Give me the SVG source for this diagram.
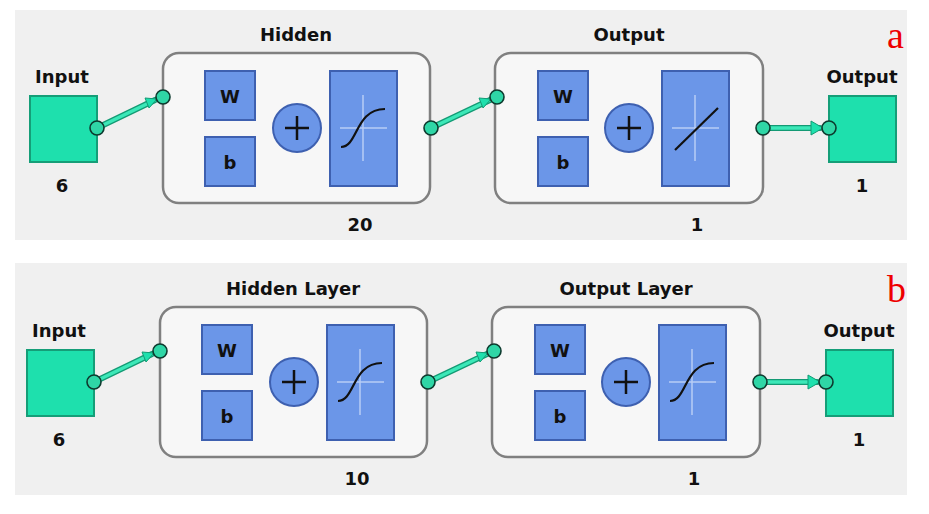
<svg xmlns="http://www.w3.org/2000/svg" width="929" height="514" viewBox="0 0 929 514">
<style>
.bg{fill:#f0f0f0}
.frame{fill:#f7f7f7;stroke:#808080;stroke-width:2.5}
.blue{fill:#6b96e8;stroke:#3e60b0;stroke-width:2}
.green{fill:#1ee0ad;stroke:#159e78;stroke-width:2}
.port{fill:#2fd6a6;stroke:#0d3a2e;stroke-width:1.6}
.w1{fill:none;stroke:#139a74;stroke-width:6;stroke-linecap:round}
.w2{fill:none;stroke:#3ce8b8;stroke-width:3.5;stroke-linecap:round}
.t{font-family:"DejaVu Sans",sans-serif;font-weight:bold;font-size:18px;fill:#111;text-anchor:middle}
.lbl{font-family:"Liberation Serif",serif;font-size:38px;fill:#ee0000}
.cross{stroke:#b8cdf5;stroke-width:1.5}
</style>
<defs>
<marker id="ah" viewBox="0 0 10 10" refX="9" refY="5" markerWidth="4" markerHeight="4" orient="auto" markerUnits="strokeWidth"><path d="M0,0L10,5L0,10z" fill="#1ee0ad" stroke="#139a74" stroke-width="1"/></marker>
<g id="panel">
</g>
</defs>
<rect class="bg" x="15" y="10" width="892" height="230"/>
<rect class="bg" x="15" y="263" width="892" height="232"/>
<g id="panelA">
<g id="connA">
<path class="w1" d="M97,128L155,100M163,97H205M255,97C275,97 285,105 290,110M255,162C275,162 285,152 290,146M321,128H330M397,128H420M431,128L490,100M497,97H538M588,97C608,97 618,105 622,110M588,162C608,162 618,152 622,146M653,128H662M729,128H755M763,128H820"/>
<path class="w2" d="M97,128L155,100M163,97H205M255,97C275,97 285,105 290,110M255,162C275,162 285,152 290,146M321,128H330M397,128H420M431,128L490,100M497,97H538M588,97C608,97 618,105 622,110M588,162C608,162 618,152 622,146M653,128H662M729,128H755M763,128H820"/>
<path d="M145,98L157,99L149,108z" fill="#1ee0ad" stroke="#139a74"/>
<path d="M413,121L425,128L413,135z" fill="#1ee0ad" stroke="#139a74"/>
<path d="M479,98L491,99L483,108z" fill="#1ee0ad" stroke="#139a74"/>
<path d="M745,121L757,128L745,135z" fill="#1ee0ad" stroke="#139a74"/>
<path d="M811,121L823,128L811,135z" fill="#1ee0ad" stroke="#139a74"/>
</g>
<g id="inputA"><rect class="green" x="30" y="96" width="67" height="66"/><text class="t" x="62" y="83">Input</text><text class="t" x="62" y="192">6</text></g>
<g id="hiddenA">
<rect class="frame" x="163" y="53" width="267" height="150" rx="16"/>
<text class="t" x="296" y="41">Hidden</text>
<rect class="blue" x="205" y="71" width="50" height="49"/><text class="t" x="230" y="103">W</text>
<rect class="blue" x="205" y="137" width="50" height="49"/><text class="t" x="230" y="169">b</text>
<circle class="blue" cx="297" cy="128" r="24" stroke="#26396a"/><path d="M285,128H309M297,116V140" stroke="#111" stroke-width="2.5"/>
<rect class="blue" x="330" y="71" width="67" height="115"/>
<path class="cross" d="M340,128H387M363,95V161"/>
<path d="M341,147C358,147 355,109 385,109" fill="none" stroke="#111" stroke-width="2.2"/>
<text class="t" x="360" y="231">20</text>
</g>
<g id="outlayerA">
<rect class="frame" x="495" y="53" width="268" height="150" rx="16"/>
<text class="t" x="629" y="41">Output</text>
<rect class="blue" x="538" y="71" width="50" height="49"/><text class="t" x="563" y="103">W</text>
<rect class="blue" x="538" y="137" width="50" height="49"/><text class="t" x="563" y="169">b</text>
<circle class="blue" cx="629" cy="128" r="24" stroke="#26396a"/><path d="M617,128H641M629,116V140" stroke="#111" stroke-width="2.5"/>
<rect class="blue" x="662" y="71" width="67" height="115"/>
<path class="cross" d="M672,128H719M695,95V161"/>
<path d="M675,150L718,108" stroke="#111" stroke-width="2.2"/>
<text class="t" x="697" y="231">1</text>
</g>
<g id="outputA"><rect class="green" x="829" y="96" width="67" height="66"/><text class="t" x="862" y="83">Output</text><text class="t" x="862" y="192">1</text></g>
<g id="portsA">
<circle class="port" cx="97" cy="128" r="7"/><circle class="port" cx="163" cy="97" r="7"/><circle class="port" cx="431" cy="128" r="7"/><circle class="port" cx="497" cy="97" r="7"/><circle class="port" cx="763" cy="128" r="7"/><circle class="port" cx="829" cy="128" r="7"/>
</g>
<text class="lbl" x="887" y="48">a</text>
</g>
<g id="panelB" transform="translate(-3,254)">
<g id="connB">
<path class="w1" d="M97,128L155,100M163,97H205M255,97C275,97 285,105 290,110M255,162C275,162 285,152 290,146M321,128H330M397,128H420M431,128L490,100M497,97H538M588,97C608,97 618,105 622,110M588,162C608,162 618,152 622,146M653,128H662M729,128H755M763,128H820"/>
<path class="w2" d="M97,128L155,100M163,97H205M255,97C275,97 285,105 290,110M255,162C275,162 285,152 290,146M321,128H330M397,128H420M431,128L490,100M497,97H538M588,97C608,97 618,105 622,110M588,162C608,162 618,152 622,146M653,128H662M729,128H755M763,128H820"/>
<path d="M145,98L157,99L149,108z" fill="#1ee0ad" stroke="#139a74"/>
<path d="M413,121L425,128L413,135z" fill="#1ee0ad" stroke="#139a74"/>
<path d="M479,98L491,99L483,108z" fill="#1ee0ad" stroke="#139a74"/>
<path d="M745,121L757,128L745,135z" fill="#1ee0ad" stroke="#139a74"/>
<path d="M811,121L823,128L811,135z" fill="#1ee0ad" stroke="#139a74"/>
</g>
<g id="inputB"><rect class="green" x="30" y="96" width="67" height="66"/><text class="t" x="62" y="83">Input</text><text class="t" x="62" y="192">6</text></g>
<g id="hiddenB">
<rect class="frame" x="163" y="53" width="267" height="150" rx="16"/>
<text class="t" x="296" y="41">Hidden Layer</text>
<rect class="blue" x="205" y="71" width="50" height="49"/><text class="t" x="230" y="103">W</text>
<rect class="blue" x="205" y="137" width="50" height="49"/><text class="t" x="230" y="169">b</text>
<circle class="blue" cx="297" cy="128" r="24" stroke="#26396a"/><path d="M285,128H309M297,116V140" stroke="#111" stroke-width="2.5"/>
<rect class="blue" x="330" y="71" width="67" height="115"/>
<path class="cross" d="M340,128H387M363,95V161"/>
<path d="M341,147C358,147 355,109 385,109" fill="none" stroke="#111" stroke-width="2.2"/>
<text class="t" x="360" y="231">10</text>
</g>
<g id="outlayerB">
<rect class="frame" x="495" y="53" width="268" height="150" rx="16"/>
<text class="t" x="629" y="41">Output Layer</text>
<rect class="blue" x="538" y="71" width="50" height="49"/><text class="t" x="563" y="103">W</text>
<rect class="blue" x="538" y="137" width="50" height="49"/><text class="t" x="563" y="169">b</text>
<circle class="blue" cx="629" cy="128" r="24" stroke="#26396a"/><path d="M617,128H641M629,116V140" stroke="#111" stroke-width="2.5"/>
<rect class="blue" x="662" y="71" width="67" height="115"/>
<path class="cross" d="M672,128H719M695,95V161"/>
<path d="M673,147C690,147 687,109 717,109" fill="none" stroke="#111" stroke-width="2.2"/>
<text class="t" x="697" y="231">1</text>
</g>
<g id="outputB"><rect class="green" x="829" y="96" width="67" height="66"/><text class="t" x="862" y="83">Output</text><text class="t" x="862" y="192">1</text></g>
<g id="portsB">
<circle class="port" cx="97" cy="128" r="7"/><circle class="port" cx="163" cy="97" r="7"/><circle class="port" cx="431" cy="128" r="7"/><circle class="port" cx="497" cy="97" r="7"/><circle class="port" cx="763" cy="128" r="7"/><circle class="port" cx="829" cy="128" r="7"/>
</g>
<text class="lbl" x="890" y="48">b</text>
</g>
</svg>
